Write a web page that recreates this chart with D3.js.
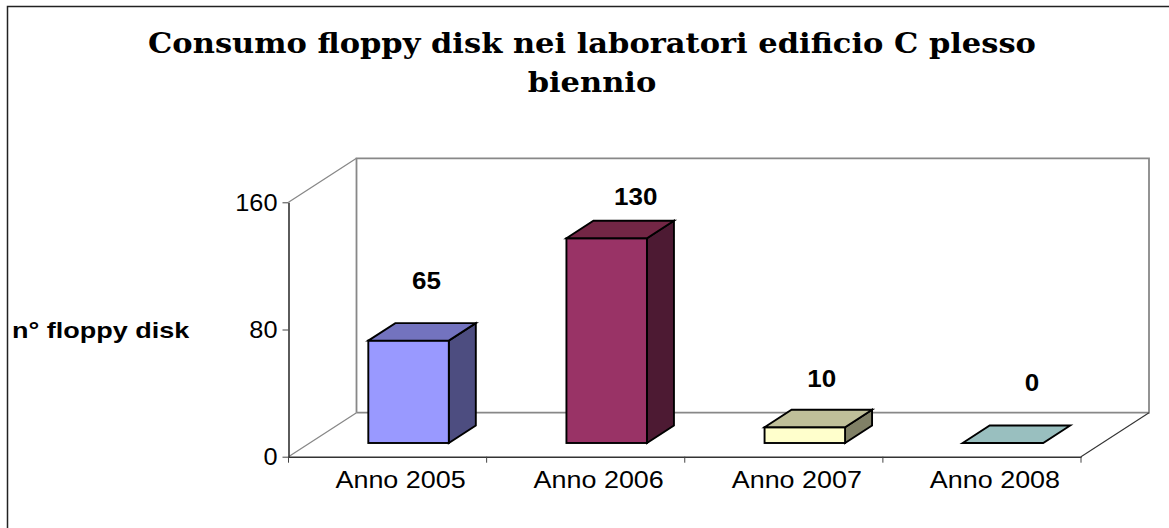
<!DOCTYPE html>
<html><head><meta charset="utf-8">
<script src="https://cdn.jsdelivr.net/npm/d3@7"></script>
<style>html,body{margin:0;padding:0;background:#fff}svg{display:block}</style>
</head><body><div id="c"></div>
<script>
const categories=["Anno 2005","Anno 2006","Anno 2007","Anno 2008"];
const values=[65,130,10,0];
const fills=["#9999ff","#993366","#ffffcc","#ccffff"];
const tops=["#7373bf","#732645","#bfbf99","#99bfbf"];
const sides=["#4d4d80","#4d1a33","#808066","#668080"];
const yTicks=[0,80,160];
const titleLines=["Consumo floppy disk nei laboratori edificio C plesso","biennio"];
const W=1169,H=528;
const svg=d3.select("#c").append("svg").attr("width",W).attr("height",H);
function stretch(sel,k){sel.attr("lengthAdjust","spacingAndGlyphs").attr("textLength",function(){return this.getComputedTextLength()*k;});}
// chart frame: only top and left edges are visible in the picture
svg.append("path").attr("d",`M7.5,${H}V6.5H${W}`).attr("fill","none").attr("stroke","#222").attr("stroke-width",1.5);
const x=d3.scaleBand().domain(categories).range([288.5,1081]);
const y=d3.scaleLinear().domain([0,160]).range([456.7,202.3]);
const yBar=d3.scaleLinear().domain([0,160]).range([443,191]);
const wallDx=68,wallDy=-44;
const [x0,x1]=x.range();
const y0=y(0),yT=y(160);
const grey="#888";
const wall=svg.append("g").attr("fill","none").attr("stroke",grey);
wall.append("path").attr("stroke-width",1.8).attr("d",`M${x0+wallDx},${y0+wallDy}V${yT+wallDy}H${x1+wallDx}V${y0+wallDy}H${x0+wallDx}`);
wall.append("path").attr("stroke-width",1.3).attr("d",`M${x0},${yT}L${x0+wallDx},${yT+wallDy}M${x0},${y0}L${x0+wallDx},${y0+wallDy}`);
svg.append("path").attr("d",`M${x1},${y0}L${x1+wallDx},${y0+wallDy}`).attr("stroke","#333").attr("stroke-width",1.1).attr("fill","none");
const ay=svg.append("g").attr("transform",`translate(${x0},0)`).call(d3.axisLeft(y).tickValues(yTicks).tickSize(6).tickPadding(5).tickSizeOuter(0));
const ax=svg.append("g").attr("transform",`translate(0,${y0})`).call(d3.axisBottom(x).tickSize(0).tickSizeOuter(0));
ax.selectAll(".tick line").remove();
ax.append("g").selectAll("line").data(d3.range(categories.length+1)).join("line")
 .attr("x1",i=>x0+i*x.step()).attr("x2",i=>x0+i*x.step()).attr("y1",0).attr("y2",6).attr("stroke","#444");
svg.selectAll(".domain").attr("stroke","#333").attr("stroke-width",1.6);
ay.selectAll(".tick line").attr("stroke","#444");
svg.selectAll(".tick text").attr("font-family","'Liberation Sans'").attr("font-size",23).attr("fill","#000");
ax.selectAll(".tick text").attr("dx",13).attr("y",31).attr("dy",0).call(stretch,1.17);
ay.selectAll(".tick text").attr("dy","0.34em").call(stretch,1.1);
const barW=80.5,barDx=27,barDy=-17.5,insetDx=21;
const labelDx=[18,29,17,29],labelDy=[-52,-33,-40,-52];
const bars=svg.append("g").attr("stroke","#000").attr("stroke-width",1.9).attr("stroke-linejoin","miter");
categories.forEach((c,i)=>{
  const l=x(c)+x.bandwidth()/2+insetDx-barW/2, r=l+barW;
  const b=yBar(0), t=yBar(values[i]);
  const g=bars.append("g");
  if(values[i]>0){
    g.append("path").attr("fill",sides[i]).attr("d",`M${r},${t}L${r+barDx},${t+barDy}V${b+barDy}L${r},${b}Z`);
    g.append("rect").attr("fill",fills[i]).attr("x",l).attr("y",t).attr("width",barW).attr("height",b-t);
  }
  g.append("path").attr("fill",tops[i]).attr("d",`M${l},${t}L${l+barDx},${t+barDy}H${r+barDx}L${r},${t}Z`);
  svg.append("text").text(values[i]).attr("x",l+barW/2+labelDx[i]).attr("y",t+labelDy[i]).attr("text-anchor","middle")
    .attr("font-family","'Liberation Sans'").attr("font-weight","bold").attr("font-size",23).call(stretch,1.13);
});
svg.selectAll(null).data(titleLines).join("text").text(d=>d)
 .attr("x",592).attr("y",(d,i)=>53+i*39).attr("text-anchor","middle")
 .attr("font-family","'DejaVu Serif'").attr("font-weight","bold").attr("font-size",27).call(stretch,1.13);
svg.append("text").text("n° floppy disk").attr("x",12).attr("y",338)
 .attr("font-family","'Liberation Sans'").attr("font-weight","bold").attr("font-size",22.5).call(stretch,1.2);
</script></body></html>
